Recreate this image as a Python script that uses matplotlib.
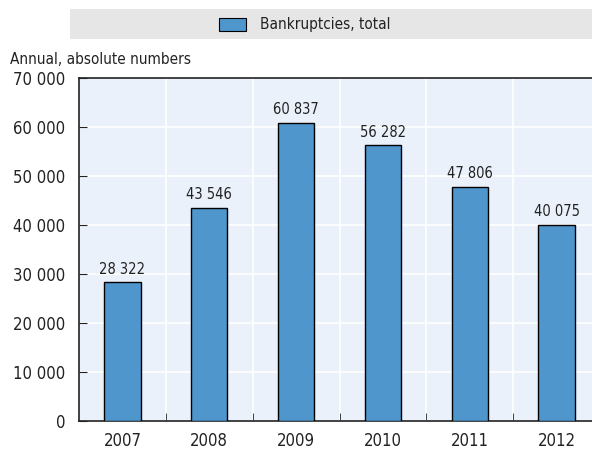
import matplotlib
matplotlib.use("Agg")
import matplotlib.pyplot as plt
from matplotlib.patches import Rectangle
from matplotlib.ticker import FuncFormatter, MultipleLocator

years = ["2007", "2008", "2009", "2010", "2011", "2012"]
bankruptcies = [28322, 43546, 60837, 56282, 47806, 40075]
series_name = "Bankruptcies, total"
y_title = "Annual, absolute numbers"

plt.rcParams['font.family'] = ['DejaVu Sans']
plt.rcParams['font.stretch'] = 'condensed'

W, H = 592, 451
fig = plt.figure(figsize=(W / 100, H / 100), dpi=100)

x0, x1 = 79, 600
ytop, ybot = 78, 421
ax = fig.add_axes([x0 / W, (H - ybot) / H, (x1 - x0) / W, (ybot - ytop) / H])
ax.set_facecolor('#EAF1FA')

xs = list(range(len(years)))
ax.bar(xs, bankruptcies, width=0.42, color='#4F96CC', edgecolor='black',
       linewidth=1.0, zorder=3)
for x, v in zip(xs, bankruptcies):
    ax.annotate(f"{v:,}".replace(",", " "), (x, v), xytext=(0, 4),
                textcoords='offset points', ha='center', va='bottom',
                fontsize=10.5, color='#222222', zorder=4)

ax.set_xlim(-0.5, len(years) - 0.5)
ax.set_ylim(0, 70000)
ax.yaxis.set_major_locator(MultipleLocator(10000))
ax.yaxis.set_major_formatter(FuncFormatter(lambda v, p: f"{int(v):,}".replace(",", " ")))
ax.set_xticks(xs)
ax.set_xticklabels(years)
ax.set_xticks([i + 0.5 for i in xs[:-1]], minor=True)

ax.grid(axis='y', which='major', color='white', linewidth=1.2, zorder=1)
ax.grid(axis='x', which='minor', color='white', linewidth=1.2, zorder=1)
ax.set_axisbelow(True)

for side in ['left', 'bottom', 'top']:
    ax.spines[side].set_color('#222222')
    ax.spines[side].set_linewidth(1.2)
ax.spines['right'].set_visible(False)

ax.tick_params(axis='y', which='major', length=6, direction='in', labelsize=12,
               colors='#222222', pad=10)
ax.tick_params(axis='x', which='major', length=0, labelsize=12, colors='#222222', pad=8)
ax.tick_params(axis='x', which='minor', length=6, direction='in', color='#222222')

fig.patches.append(Rectangle((70 / W, (H - 39) / H), (W - 70) / W, 30 / H,
                             transform=fig.transFigure, facecolor='#E6E6E6',
                             edgecolor='none', zorder=0))
fig.patches.append(Rectangle((219 / W, (H - 31) / H), 27 / W, 13 / H,
                             transform=fig.transFigure, facecolor='#4F96CC',
                             edgecolor='black', linewidth=0.8, zorder=1))
fig.text(260 / W, (H - 24) / H, series_name, ha='left', va='center',
         fontsize=11, color='#222222')

fig.text(10 / W, (H - 60) / H, y_title, ha='left', va='center',
         fontsize=11, color='#222222')

fig.savefig("out.png", dpi=100)
